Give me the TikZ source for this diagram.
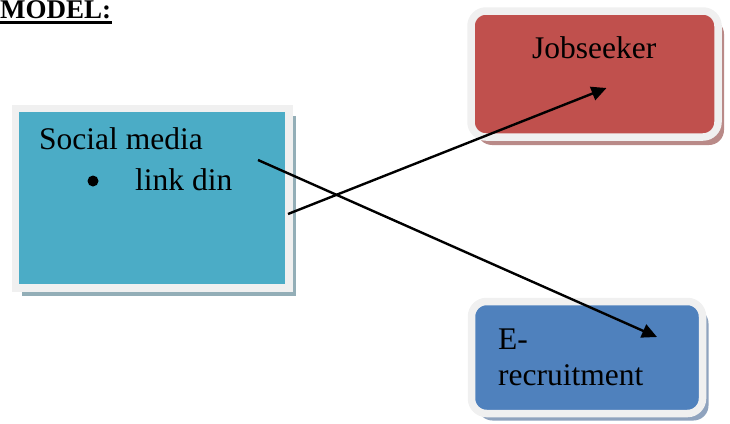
\documentclass[tikz,border=0pt]{standalone}
\usepackage{fontspec}
\setmainfont{Liberation Serif}
\usetikzlibrary{arrows.meta,shadows}

\definecolor{framegray}{HTML}{F0F0F0}
\definecolor{socialblue}{HTML}{4BACC6}
\definecolor{socialshade}{HTML}{93AEB7}
\definecolor{seekerred}{HTML}{C0504D}
\definecolor{seekershade}{HTML}{B98A88}
\definecolor{recruitblue}{HTML}{4F81BD}
\definecolor{recruitshade}{HTML}{8FA3BE}

\tikzset{
  box/.style={draw=framegray, line width=7.5pt, inner sep=0pt},
  roundbox/.style={box, rounded corners=15pt},
  boxtext/.style={anchor=base west, inner sep=0pt, font=\fontsize{31.5}{38}\selectfont},
  link/.style={line width=2.4pt, -{Triangle[length=15pt,width=14pt]}}
}

\begin{document}
\begin{tikzpicture}[x=1pt, y=-1pt]
				\useasboundingbox (0,0) rectangle (730,423);
				
				% Title
				\node[anchor=base west, inner sep=0pt, font=\fontsize{27}{32}\bfseries\selectfont] (title) at (0,18) {MODEL:};
				\draw[line width=2.5pt] (title.base west)++(0,4.5) -- ++(112,0);
				
				% Boxes
				% Social media
				\node[box, fill=socialblue, minimum width=273.5pt, minimum height=179.5pt,
				      drop shadow={fill=socialshade, opacity=1, shadow xshift=7pt, shadow yshift=-8pt}] (social) at (152,198) {};
				\node[boxtext] (socialtxt) at (39,149) {Social media};
				\fill (93,181) circle [radius=5.5] coordinate (bullet);
				\node[boxtext] (linkdin) at (135,190) {link din};
				
				% Jobseeker
				\node[roundbox, fill=seekerred, minimum width=247pt, minimum height=126pt,
				      drop shadow={fill=seekershade, opacity=1, shadow xshift=6pt, shadow yshift=-8pt}] (seeker) at (594.5,74) {};
				\node[boxtext] (seekertxt) at (532,58) {Jobseeker};
				
				% E-recruitment
				\node[roundbox, fill=recruitblue, minimum width=231pt, minimum height=112pt,
				      drop shadow={fill=recruitshade, opacity=1, shadow xshift=6pt, shadow yshift=-7pt}] (recruit) at (587,357.5) {};
				\node[boxtext] (etxt) at (498,349) {E-};
				\node[boxtext] (recruittxt) at (498,385) {recruitment};
				
				% Arrows
				\coordinate (socialA) at (288,214);
				\coordinate (socialB) at (258,160);
				\coordinate (seekerin) at (606.5,88);
				\coordinate (recruitin) at (657,337);
				\draw[link] (socialA) -- (seekerin);
				\draw[link] (socialB) -- (recruitin);
\end{tikzpicture}
\end{document}
